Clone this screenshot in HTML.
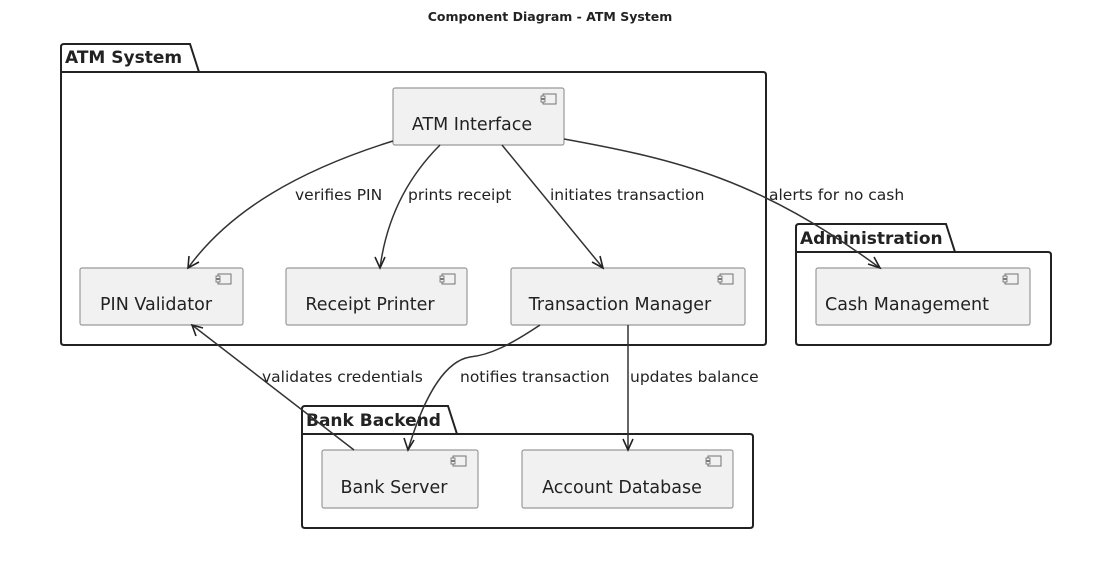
<!DOCTYPE html>
<html><head><meta charset="utf-8"><style>
html,body{margin:0;padding:0;background:#fff;width:1101px;height:577px;overflow:hidden}
text{font-family:"DejaVu Sans","Liberation Sans",sans-serif;fill:#222}
.c{fill:#f1f1f1;stroke:#999;stroke-width:1.2}
.p{fill:none;stroke:#222;stroke-width:2}
.e{fill:none;stroke:#333;stroke-width:1.5}
.ar{fill:none;stroke:#222;stroke-width:1.6}
</style></head><body>
<svg width="1101" height="577" xmlns="http://www.w3.org/2000/svg">
<defs>
<g id="ic"><rect x="2" y="0" width="13" height="10" fill="#f1f1f1" stroke="#666" stroke-width="0.9"/><rect x="0" y="2" width="4" height="2.5" fill="#f1f1f1" stroke="#666" stroke-width="0.8"/><rect x="0" y="5.5" width="4" height="2.5" fill="#f1f1f1" stroke="#666" stroke-width="0.8"/></g>
</defs>
<text x="550" y="21" font-size="12.5" font-weight="bold" text-anchor="middle">Component Diagram - ATM System</text>

<path class="p" d="M61,72 L61,47 Q61,44 64,44 L190,44 L199,72 L763,72 Q766,72 766,75 L766,342 Q766,345 763,345 L64,345 Q61,345 61,342 Z M61,72 L199,72"/>
<text x="65" y="63" font-size="17" font-weight="bold" fill="#000">ATM System</text>

<path class="p" d="M796,252 L796,227 Q796,224 799,224 L946,224 L955,252 L1048,252 Q1051,252 1051,255 L1051,342 Q1051,345 1048,345 L799,345 Q796,345 796,342 Z M796,252 L955,252"/>
<text x="800" y="244" font-size="17" font-weight="bold" fill="#000">Administration</text>

<path class="p" d="M302,434 L302,409 Q302,406 305,406 L448,406 L457,434 L750,434 Q753,434 753,437 L753,525 Q753,528 750,528 L305,528 Q302,528 302,525 Z M302,434 L457,434"/>
<text x="306" y="426" font-size="17" font-weight="bold" fill="#000">Bank Backend</text>

<rect class="c" x="393" y="88" width="171" height="57" rx="2"/><use href="#ic" x="541" y="94"/>
<text x="472" y="130" font-size="17.5" text-anchor="middle">ATM Interface</text>
<rect class="c" x="80" y="268" width="163" height="57" rx="2"/><use href="#ic" x="216" y="274"/>
<text x="156" y="310" font-size="17.5" text-anchor="middle">PIN Validator</text>
<rect class="c" x="286" y="268" width="181" height="57" rx="2"/><use href="#ic" x="440" y="274"/>
<text x="370" y="310" font-size="17.5" text-anchor="middle">Receipt Printer</text>
<rect class="c" x="511" y="268" width="234" height="57" rx="2"/><use href="#ic" x="718" y="274"/>
<text x="620" y="310" font-size="17.5" text-anchor="middle">Transaction Manager</text>
<rect class="c" x="816" y="268" width="214" height="57" rx="2"/><use href="#ic" x="1003" y="274"/>
<text x="907" y="310" font-size="17.5" text-anchor="middle">Cash Management</text>
<rect class="c" x="322" y="450" width="156" height="58" rx="2"/><use href="#ic" x="451" y="456"/>
<text x="394" y="493" font-size="17.5" text-anchor="middle">Bank Server</text>
<rect class="c" x="522" y="450" width="211" height="58" rx="2"/><use href="#ic" x="706" y="456"/>
<text x="622" y="493" font-size="17.5" text-anchor="middle">Account Database</text>

<path class="e" d="M393,141 C300,170 230,210 188,268"/>
<path class="ar" d="M189,256 L188,268 L199,262"/>
<text x="295" y="200" font-size="15.5">verifies PIN</text>

<path class="e" d="M440,145 C400,185 385,230 380,268"/>
<path class="ar" d="M375,257 L380,268 L385,257"/>
<text x="408" y="200" font-size="15.5">prints receipt</text>

<path class="e" d="M502,145 L603,268"/>
<path class="ar" d="M592,262 L603,268 L600,256"/>
<text x="550" y="200" font-size="15.5">initiates transaction</text>

<path class="e" d="M564,139 C680,160 760,180 880,268"/>
<path class="ar" d="M868,264 L880,268 L874,257"/>
<text x="769" y="200" font-size="15.5">alerts for no cash</text>

<path class="e" d="M354,450 L192,325"/>
<path class="ar" d="M196,336 L192,325 L203,328"/>
<text x="262" y="382" font-size="15.5">validates credentials</text>

<path class="e" d="M540,325 C510,345 490,355 470,357 C440,362 420,410 408,450"/>
<path class="ar" d="M404,438 L408,450 L414,440"/>
<text x="460" y="382" font-size="15.5">notifies transaction</text>

<path class="e" d="M628,325 L628,450"/>
<path class="ar" d="M623,439 L628,450 L633,439"/>
<text x="630" y="382" font-size="15.5">updates balance</text>
</svg>
</body></html>
